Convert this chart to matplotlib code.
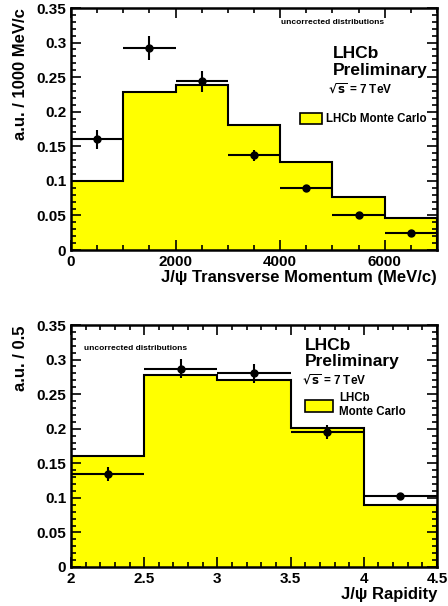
import matplotlib

matplotlib.use("Agg")
import matplotlib.pyplot as plt
import numpy as np
from matplotlib.ticker import MultipleLocator, FuncFormatter
from matplotlib.patches import Patch

# pT distribution (MeV/c)
pt_edges = [0, 1000, 2000, 3000, 4000, 5000, 6000, 7000]
pt_mc = [0.100, 0.228, 0.238, 0.181, 0.127, 0.077, 0.046]
pt_data = [0.160, 0.292, 0.244, 0.137, 0.089, 0.051, 0.024]
pt_err = [0.014, 0.017, 0.015, 0.008, 0.005, 0.003, 0.002]

# rapidity distribution
y_edges = [2.0, 2.5, 3.0, 3.5, 4.0, 4.5]
y_mc = [0.161, 0.277, 0.270, 0.201, 0.089]
y_data = [0.135, 0.287, 0.280, 0.195, 0.102]
y_err = [0.010, 0.014, 0.014, 0.010, 0.003]

plt.rcParams["font.family"] = ["Liberation Sans", "DejaVu Sans"]
plt.rcParams["font.weight"] = "bold"

W, H = 448, 606
fig = plt.figure(figsize=(W / 100, H / 100), dpi=100)


def draw_panel(ax, edges, mc, data, err, xmaj, xmin):
    edges = np.asarray(edges)
    centers = 0.5 * (edges[:-1] + edges[1:])
    half = 0.5 * np.diff(edges)
    ax.stairs(mc, edges, fill=True, color="#ffff00", zorder=1)
    ax.stairs(mc, edges, color="black", lw=1.5, zorder=2)
    ax.errorbar(centers, data, xerr=half, yerr=err, fmt="o", color="black",
                ms=5, elinewidth=1.5, capsize=0, zorder=3)
    ax.set_xlim(edges[0], edges[-1])
    ax.set_ylim(0, 0.35)
    ax.xaxis.set_major_locator(MultipleLocator(xmaj))
    ax.xaxis.set_minor_locator(MultipleLocator(xmin))
    ax.yaxis.set_major_locator(MultipleLocator(0.05))
    ax.yaxis.set_minor_locator(MultipleLocator(0.01))
    ax.tick_params(which="both", direction="in", top=True, right=True,
                   width=1.2, labelsize=11)
    ax.tick_params(which="major", length=7)
    ax.tick_params(which="minor", length=3.5)
    for s in ax.spines.values():
        s.set_linewidth(1.8)
    ax.xaxis.set_major_formatter(FuncFormatter(lambda v, p: "%g" % round(v, 3)))
    ax.yaxis.set_major_formatter(FuncFormatter(lambda v, p: "%g" % round(v, 3)))


def add_labels(ax, xt, yt, lhcb_x, lhcb_y, pre_y, s_x, s_y, unc_x, unc_y):
    ax.set_xlabel(xt, fontsize=12, fontweight="bold", loc="right", labelpad=1)
    ax.set_ylabel(yt, fontsize=12, fontweight="bold", loc="top", labelpad=6)
    ax.text(unc_x, unc_y, "uncorrected distributions", transform=ax.transAxes,
            fontsize=6, fontweight="bold")
    ax.text(lhcb_x, lhcb_y, "LHCb", transform=ax.transAxes, fontsize=12.5,
            fontweight="bold")
    ax.text(lhcb_x, pre_y, "Preliminary", transform=ax.transAxes,
            fontsize=12.5, fontweight="bold")
    ax.text(s_x, s_y, r"$\sqrt{\mathbf{s}}$ = 7 TeV", transform=ax.transAxes,
            fontsize=8.5, fontweight="bold")


# top panel
ax1 = fig.add_axes([71 / W, 1 - 250 / H, 366 / W, 242 / H])
draw_panel(ax1, pt_edges, pt_mc, pt_data, pt_err, 2000, 500)
add_labels(ax1, "J/\u03c8 Transverse Momentum (MeV/c)", "a.u. / 1000 MeV/c",
           0.716, 0.793, 0.725, 0.703, 0.645, 0.574, 0.935)
ax1.legend(handles=[Patch(facecolor="#ffff00", edgecolor="black", lw=1.2,
                          label="LHCb Monte Carlo")],
           loc="center left", bbox_to_anchor=(0.626, 0.541), frameon=False,
           prop={"size": 8.3, "weight": "bold"}, handlelength=1.9,
           handleheight=1.2, borderaxespad=0, handletextpad=0.35,
           borderpad=0)

# bottom panel
ax2 = fig.add_axes([71 / W, 1 - 567 / H, 366 / W, 242 / H])
draw_panel(ax2, y_edges, y_mc, y_data, y_err, 0.5, 0.1)
add_labels(ax2, "J/\u03c8 Rapidity", "a.u. / 0.5",
           0.639, 0.895, 0.83, 0.630, 0.755, 0.036, 0.895)
ax2.legend(handles=[Patch(facecolor="#ffff00", edgecolor="black", lw=1.2,
                          label="LHCb\nMonte Carlo")],
           loc="center left", bbox_to_anchor=(0.639, 0.669), frameon=False,
           prop={"size": 8.3, "weight": "bold"}, handlelength=2.45,
           handleheight=1.2, borderaxespad=0, handletextpad=0.5,
           borderpad=0)

fig.savefig("out.png", dpi=100)
